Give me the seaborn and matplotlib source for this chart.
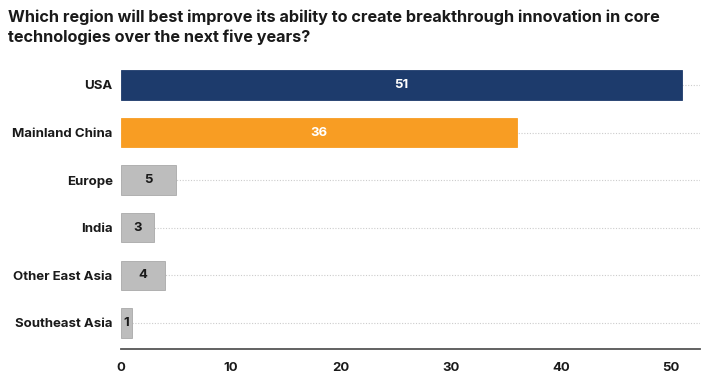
import matplotlib
matplotlib.use("Agg")
import matplotlib.pyplot as plt
import seaborn as sns
import pandas as pd

regions = ["USA", "Mainland China", "Europe", "India", "Other East Asia", "Southeast Asia"]
values = [51, 36, 5, 3, 4, 1]
colors = ["#1d3b6c", "#f89d23", "#bdbdbd", "#bdbdbd", "#bdbdbd", "#bdbdbd"]
label_colors = ["white", "white", "#1a1a1a", "#1a1a1a", "#1a1a1a", "#1a1a1a"]
x_ticks = [0, 10, 20, 30, 40, 50]

sns.set_theme(style="white")
plt.rcParams["font.family"] = ["Inter", "DejaVu Sans"]

df = pd.DataFrame({"region": regions, "value": values})

fig = plt.figure(figsize=(7.02, 3.73), dpi=100)
ax = fig.add_axes([0.1724, 0.0643, 0.8246, 0.778])

for i, r in enumerate(regions):
    ax.axhline(i, color="#cccccc", lw=0.8, ls=(0, (1, 1.5)), zorder=0)

sns.barplot(data=df, x="value", y="region", hue="region", palette=colors,
            order=regions, hue_order=regions, dodge=False, legend=False,
            width=0.62, saturation=1, ax=ax, zorder=2)
for p, c in zip(ax.patches, colors):
    p.set_edgecolor("#a9a9a9" if c == "#bdbdbd" else c)
    p.set_linewidth(0.6)

for i, (v, lc) in enumerate(zip(values, label_colors)):
    ax.text(v / 2, i, str(v), ha="center", va="center", color=lc,
            fontsize=9.5, fontweight="bold", zorder=3)

ax.set_xlim(0, 52.6)
ax.set_ylim(5.55, -0.55)
ax.set_xticks(x_ticks)
ax.set_xticklabels([str(t) for t in x_ticks])
ax.set_xlabel("")
ax.set_ylabel("")
for s in ["top", "right", "left"]:
    ax.spines[s].set_visible(False)
ax.spines["bottom"].set_color("#555555")
ax.spines["bottom"].set_linewidth(1.3)
ax.tick_params(axis="both", length=0, labelsize=9.5, labelcolor="#1a1a1a")
ax.tick_params(axis="x", pad=9)
ax.tick_params(axis="y", pad=6)
for lbl in ax.get_xticklabels() + ax.get_yticklabels():
    lbl.set_fontweight("bold")

fig.text(0.012, 0.975, "Which region will best improve its ability to create breakthrough innovation in core\ntechnologies over the next five years?",
         ha="left", va="top", fontsize=11.7, fontweight="bold", color="#1a1a1a", linespacing=1.4)

fig.savefig("out.png", dpi=100)
